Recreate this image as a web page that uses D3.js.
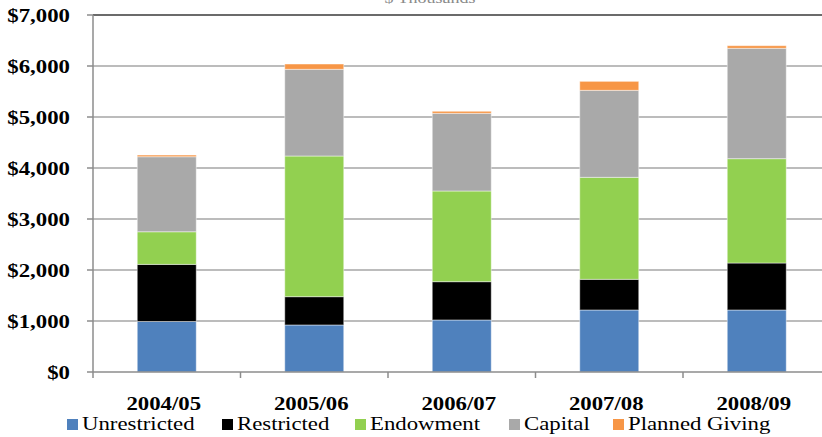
<!DOCTYPE html>
<html>
<head>
<meta charset="utf-8">
<script src="https://cdn.jsdelivr.net/npm/d3@7"></script>
<style>
body{margin:0;background:#fff}
</style>
</head>
<body>
<svg id="svg1" width="822" height="437"></svg>
<script>
var years = ["2004/05","2005/06","2006/07","2007/08","2008/09"]
var series = ["Unrestricted","Restricted","Endowment","Capital","Planned Giving"]
var colors = ["#4F81BD","#000000","#92D050","#A9A9A9","#F79646"]
var unrestricted = [990, 922, 1020, 1216, 1216]
var restricted = [1120, 555, 751, 601, 921]
var endowment = [640, 2758, 1778, 2000, 2046]
var capital = [1471, 1700, 1523, 1706, 2164]
var planned = [33, 104, 40, 176, 51]
var yTicks = [0,1000,2000,3000,4000,5000,6000,7000]

var svg = d3.select("#svg1").style("font-family","'Liberation Serif'")
var sx = 1.2 // text in the picture is stretched sideways

var rows = years.map(function(y,i){
    return {year:y, "Unrestricted":unrestricted[i], "Restricted":restricted[i],
        "Endowment":endowment[i], "Capital":capital[i], "Planned Giving":planned[i]}
})
var stack = d3.stack().keys(series)(rows)

var x = d3.scaleBand().domain(years).range([93,830.5]).paddingInner(0.6).paddingOuter(0.3)
var y = d3.scaleLinear().domain([0,7000]).range([372,15])

// title, mostly cut off at the top like in the original
svg.append("text").attr("transform","translate(430,3) scale("+sx+",1)")
    .attr("text-anchor","middle").attr("font-size",15).attr("fill","#8a8a8a")
    .text("$ Thousands")

// gridlines
svg.selectAll("line.grid").data(yTicks.slice(1,7)).enter().append("line")
    .attr("x1",93).attr("x2",822)
    .attr("y1",function(d){return y(d)}).attr("y2",function(d){return y(d)})
    .attr("stroke","#a6a6a6").attr("stroke-width",1.5)
svg.append("line").attr("x1",93).attr("x2",822).attr("y1",y(7000)).attr("y2",y(7000))
    .attr("stroke","#3a3a3a").attr("stroke-width",1.6)

// bars
svg.selectAll("g.layer").data(stack).enter().append("g")
    .attr("fill",function(d,i){return colors[i]})
    .selectAll("rect").data(function(d){return d}).enter().append("rect")
    .attr("x",function(d){return x(d.data.year)})
    .attr("width",x.bandwidth())
    .attr("y",function(d){return y(d[1])})
    .attr("height",function(d){return y(d[0])-y(d[1])})
    .attr("stroke","#ffffff").attr("stroke-opacity",0.45).attr("stroke-width",1)

// y axis
var yAxis = svg.append("g")
yAxis.append("line").attr("x1",93).attr("x2",93).attr("y1",15).attr("y2",372)
    .attr("stroke","#8c8c8c").attr("stroke-width",1.5)
yAxis.selectAll("line.tk").data(yTicks).enter().append("line")
    .attr("x1",87).attr("x2",93)
    .attr("y1",function(d){return y(d)}).attr("y2",function(d){return y(d)})
    .attr("stroke","#8c8c8c").attr("stroke-width",1.5)
yAxis.selectAll("text").data(yTicks).enter().append("text")
    .attr("transform",function(d){return "translate(70,"+(y(d)+6.5)+") scale("+sx+",1)"})
    .attr("text-anchor","end").attr("font-size",19).attr("font-weight","bold")
    .text(function(d){return "$"+d3.format(",")(d)})

// x axis
var xAxis = svg.append("g")
xAxis.append("line").attr("x1",93).attr("x2",822).attr("y1",372).attr("y2",372)
    .attr("stroke","#8c8c8c").attr("stroke-width",1.5)
xAxis.selectAll("line.tk").data(d3.range(years.length+1)).enter().append("line")
    .attr("x1",function(i){return 93+i*x.step()}).attr("x2",function(i){return 93+i*x.step()})
    .attr("y1",372).attr("y2",378)
    .attr("stroke","#8c8c8c").attr("stroke-width",1.5)
xAxis.selectAll("text").data(years).enter().append("text")
    .attr("transform",function(d){return "translate("+(x(d)+x.bandwidth()/2-3)+",410) scale("+sx+",1)"})
    .attr("text-anchor","middle").attr("font-size",19).attr("font-weight","bold")
    .text(function(d){return d})

// legend
var legX = [67,222,355,509,613]
var leg = svg.selectAll("g.leg").data(series).enter().append("g")
leg.append("rect")
    .attr("x",function(d,i){return legX[i]}).attr("y",419)
    .attr("width",11).attr("height",11)
    .attr("fill",function(d,i){return colors[i]})
leg.append("text")
    .attr("transform",function(d,i){return "translate("+(legX[i]+15)+",430) scale("+sx+",1)"})
    .attr("font-size",19)
    .text(function(d){return d})
</script>
</body>
</html>
